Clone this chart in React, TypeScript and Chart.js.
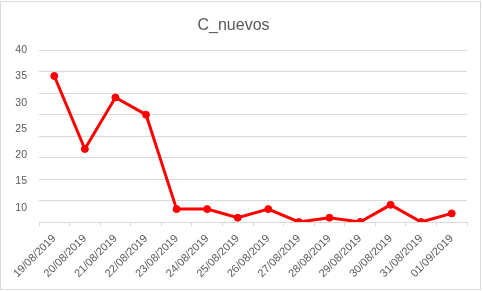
import React, { useEffect, useRef } from "react";
import { Chart, registerables } from "chart.js";

Chart.register(...registerables);

const categories = [
  "19/08/2019",
  "20/08/2019",
  "21/08/2019",
  "22/08/2019",
  "23/08/2019",
  "24/08/2019",
  "25/08/2019",
  "26/08/2019",
  "27/08/2019",
  "28/08/2019",
  "29/08/2019",
  "30/08/2019",
  "31/08/2019",
  "01/09/2019",
];
const cNuevos = [34, 17, 29, 25, 3, 3, 1, 3, 0, 1, 0, 4, 0, 2];

// Gridline scale (values of the data)
const gridMin = 0;
const gridMax = 40;
const gridStep = 5;

// Tick labels as printed on the reference's value axis
const yTickLabels = [10, 15, 20, 25, 30, 35, 40];
const labelAxisMin = 7.28;
const labelAxisMax = 40;

const TEXT = "#595959";
const GRID = "#d9d9d9";
const RED = "#ff0000";

export default function App() {
  const ref = useRef<HTMLCanvasElement>(null);

  useEffect(() => {
    document.body.style.margin = "0";
    const canvas = ref.current;
    if (!canvas) return;
    const chart = new Chart(canvas, {
      type: "line",
      data: {
        labels: categories,
        datasets: [
          {
            label: "C_nuevos",
            data: cNuevos,
            yAxisID: "y",
            borderColor: RED,
            backgroundColor: RED,
            pointBackgroundColor: RED,
            pointBorderColor: RED,
            borderWidth: 3,
            pointRadius: 3.5,
            pointBorderWidth: 1,
            tension: 0,
          },
        ],
      },
      options: {
        animation: false,
        responsive: false,
        layout: { padding: { left: 0, right: 16, top: 0, bottom: 0 } },
        plugins: {
          legend: { display: false },
          tooltip: { enabled: false },
          title: {
            display: true,
            text: "C_nuevos",
            color: TEXT,
            font: { family: "Liberation Sans", size: 16, weight: "normal" },
            padding: { top: 16, bottom: 15 },
          },
        },
        scales: {
          x: {
            type: "category",
            offset: true,
            grid: {
              offset: true,
              drawOnChartArea: false,
              drawTicks: true,
              tickLength: 4,
              color: GRID,
            },
            border: { color: GRID },
            ticks: {
              color: TEXT,
              font: { family: "Liberation Sans", size: 11 },
              maxRotation: 45,
              minRotation: 45,
              padding: 6,
              autoSkip: false,
            },
            afterFit: (s: any) => {
              s.height = 69;
            },
          },
          y: {
            position: "left",
            min: gridMin,
            max: gridMax,
            ticks: { stepSize: gridStep, display: false },
            grid: { color: GRID, drawTicks: false },
            border: { display: false },
            afterFit: (s: any) => {
              s.width = 0;
            },
          },
          yLabels: {
            type: "linear",
            position: "left",
            min: labelAxisMin,
            max: labelAxisMax,
            grid: { display: false, drawTicks: false },
            border: { display: false },
            ticks: {
              color: TEXT,
              font: { family: "Liberation Sans", size: 10.5 },
              padding: 12,
            },
            afterBuildTicks: (s: any) => {
              s.ticks = yTickLabels.map((v) => ({ value: v }));
            },
            afterFit: (s: any) => {
              s.width = 39;
            },
          },
        },
      },
    } as any);
    return () => chart.destroy();
  }, []);

  return (
    <div style={{ position: "absolute", left: 0, top: 0, width: 483, height: 291, background: "#fff" }}>
      <canvas
        ref={ref}
        width={483}
        height={291}
        style={{ position: "absolute", left: 0, top: 0, width: 483, height: 291, display: "block" }}
      />
      <div
        style={{
          position: "absolute",
          left: 0,
          top: 1,
          width: 481,
          height: 289,
          border: `1px solid ${GRID}`,
          boxSizing: "border-box",
          pointerEvents: "none",
        }}
      />
    </div>
  );
}
